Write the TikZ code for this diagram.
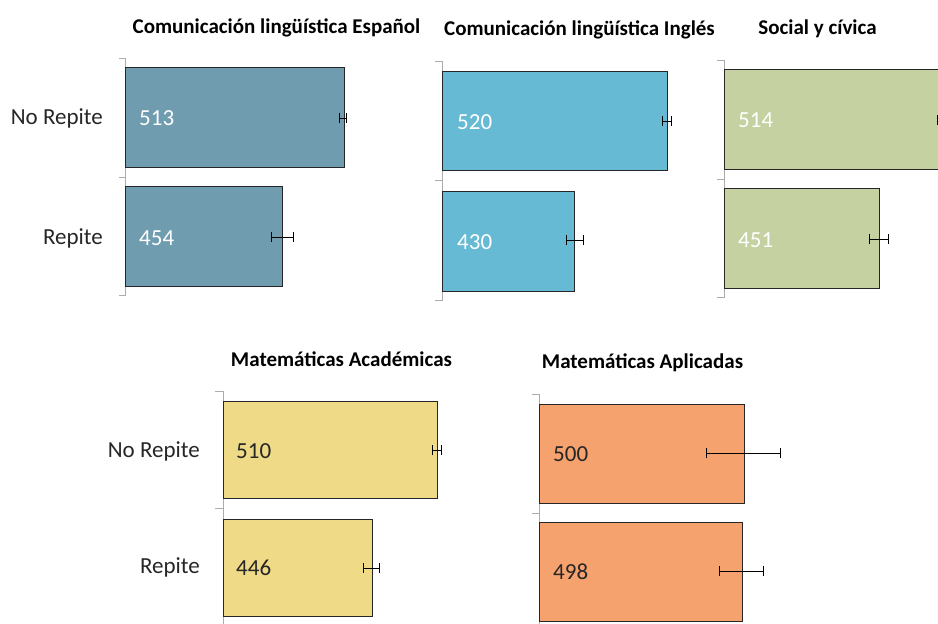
\documentclass[tikz,border=0pt]{standalone}
\usepackage{fontspec}
\setmainfont{Carlito}
\usetikzlibrary{arrows.meta}
\definecolor{espcol}{HTML}{6F9CAF}
\definecolor{ingcol}{HTML}{66BAD3}
\definecolor{soccol}{HTML}{C5D1A1}
\definecolor{acacol}{HTML}{EEDA87}
\definecolor{aplcol}{HTML}{F5A26F}
\begin{document}
\begin{tikzpicture}[x=1pt,y=-1pt,
  bar/.style={draw=black!85, line width=0.9pt},
  axisline/.style={draw=gray!65, line width=0.9pt},
  errbar/.style={draw=black, line width=0.8pt, {Bar[width=10pt]}-{Bar[width=10pt]}},
  cat/.style={anchor=base east, inner sep=0pt, text=black!85, font=\fontsize{23}{27}\selectfont},
  val/.style={anchor=base west, inner sep=0pt, font=\fontsize{23}{27}\selectfont},
  title/.style={anchor=base, inner sep=0pt, font=\bfseries\fontsize{21}{25}\selectfont}]
\clip (0,0) rectangle (938,624);

% categories, top row
\node[cat] (norep1) at (103,124) {No Repite};
\node[cat] (rep1) at (103,244) {Repite};

% Comunicacion linguistica Espanol
\node[title] (tesp) at (276.5,33) {Comunicación lingüística Español};
\draw[axisline] (119,58) -- (125,58) -- (125,295) -- (119,295);
\draw[axisline] (119,177) -- (125,177);
\draw[bar, fill=espcol] (125,67) rectangle (344,167);
\draw[bar, fill=espcol] (125,186) rectangle (282,286);
\draw[errbar] (339,118) -- (347,118);
\draw[errbar] (271,237) -- (294,237);
\node[val, text=white] (vesp1) at (139,125) {513};
\node[val, text=white] (vesp2) at (139,245) {454};

% Comunicacion linguistica Ingles
\node[title] (ting) at (579.5,35) {Comunicación lingüística Inglés};
\draw[axisline] (435,61) -- (442,61) -- (442,300) -- (435,300);
\draw[axisline] (435,180) -- (442,180);
\draw[bar, fill=ingcol] (442,71) rectangle (667,170);
\draw[bar, fill=ingcol] (442,191) rectangle (574,291);
\draw[errbar] (662,121) -- (672,121);
\draw[errbar] (566,240) -- (584,240);
\node[val, text=white] (ving1) at (457,129) {520};
\node[val, text=white] (ving2) at (457,249) {430};

% Social y civica
\node[title] (tsoc) at (817.5,34) {Social y cívica};
\draw[axisline] (717,60) -- (724,60) -- (724,297) -- (717,297);
\draw[axisline] (717,179) -- (724,179);
\draw[bar, fill=soccol] (724,69) rectangle (943,169);
\draw[bar, fill=soccol] (724,188) rectangle (879,288);
\draw[errbar] (937,120) -- (946,120);
\draw[errbar] (869,239) -- (889,239);
\node[val, text=white] (vsoc1) at (738,127) {514};
\node[val, text=white] (vsoc2) at (738,247) {451};

% categories, bottom row
\node[cat] (norep2) at (200,457) {No Repite};
\node[cat] (rep2) at (200,573) {Repite};

% Matematicas Academicas
\node[title] (taca) at (341.5,366) {Matemáticas Académicas};
\draw[axisline] (215,391) -- (223,391) -- (223,630);
\draw[axisline] (215,508) -- (223,508);
\draw[bar, fill=acacol] (223,401) rectangle (437,498);
\draw[bar, fill=acacol] (223,519) rectangle (372,616);
\draw[errbar] (432,450) -- (442,450);
\draw[errbar] (363,568) -- (380,568);
\node[val, text=black!85] (vaca1) at (236,458) {510};
\node[val, text=black!85] (vaca2) at (236,575) {446};

% Matematicas Aplicadas
\node[title] (tapl) at (642.5,368) {Matemáticas Aplicadas};
\draw[axisline] (532,394) -- (539,394) -- (539,630);
\draw[axisline] (532,513) -- (539,513);
\draw[bar, fill=aplcol] (539,404) rectangle (744,503);
\draw[bar, fill=aplcol] (539,522) rectangle (742,621);
\draw[errbar] (706,453) -- (781,453);
\draw[errbar] (719,571) -- (764,571);
\node[val, text=black!85] (vapl1) at (553,461) {500};
\node[val, text=black!85] (vapl2) at (553,579) {498};
\end{tikzpicture}
\end{document}
